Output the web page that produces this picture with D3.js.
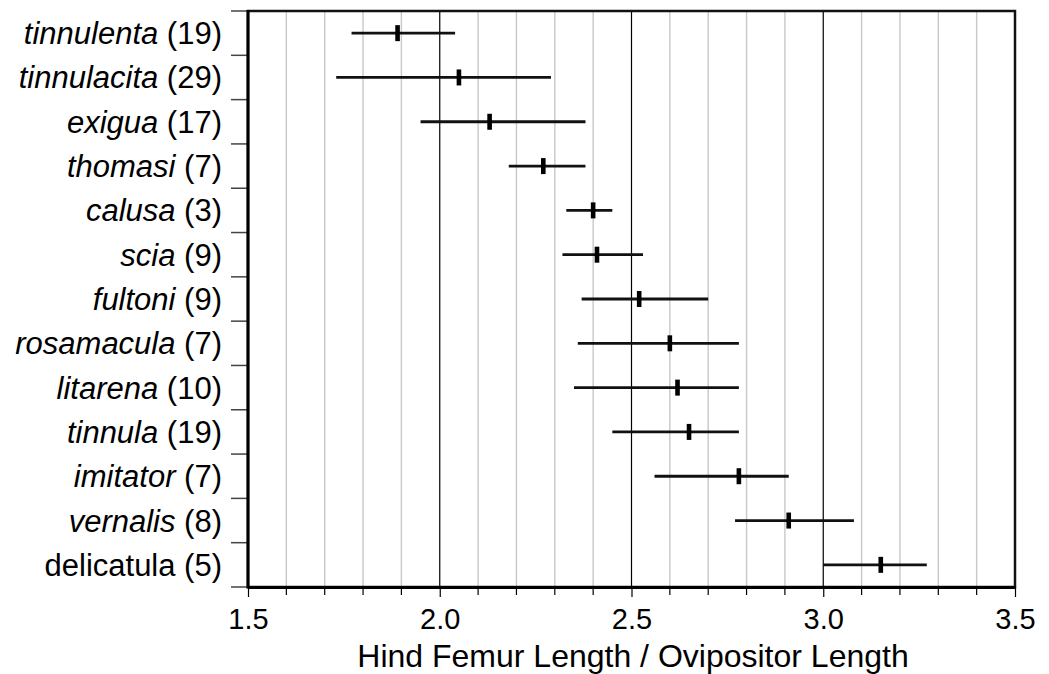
<!DOCTYPE html>
<html>
<head>
<meta charset="utf-8">
<script src="https://cdn.jsdelivr.net/npm/d3@7"></script>
<style>
  body { margin: 0; background: #fff; }
  text { font-family: "Liberation Sans", Arial, Helvetica, sans-serif; fill: #000; }
</style>
</head>
<body>
<div id="chart"></div>
<script>
// species, sample size, italic flag
var species = ["tinnulenta", "tinnulacita", "exigua", "thomasi", "calusa", "scia", "fultoni",
  "rosamacula", "litarena", "tinnula", "imitator", "vernalis", "delicatula"];
var counts = [19, 29, 17, 7, 3, 9, 9, 7, 10, 19, 7, 8, 5];
var italic = [true, true, true, true, true, true, true, true, true, true, true, true, false];

// ratio range (low, mean, high)
var lows  = [1.77, 1.73, 1.95, 2.18, 2.33, 2.32, 2.37, 2.36, 2.35, 2.45, 2.56, 2.77, 3.00];
var means = [1.89, 2.05, 2.13, 2.27, 2.40, 2.41, 2.52, 2.60, 2.62, 2.65, 2.78, 2.91, 3.15];
var highs = [2.04, 2.29, 2.38, 2.38, 2.45, 2.53, 2.70, 2.78, 2.78, 2.78, 2.91, 3.08, 3.27];

var xTicks = [1.5, 2.0, 2.5, 3.0, 3.5];
var xLabel = "Hind Femur Length / Ovipositor Length";

var svgWidth = 1049;
var svgHeight = 674;
var margin = { top: 11, right: 34, bottom: 87, left: 248 };
var width = svgWidth - margin.left - margin.right;
var height = svgHeight - margin.top - margin.bottom;

var data = species.map((s, i) => ({
  name: s, n: counts[i], italic: italic[i], lo: lows[i], mean: means[i], hi: highs[i]
}));

var svg = d3.select("#chart").append("svg")
  .attr("width", svgWidth)
  .attr("height", svgHeight);

var chartGroup = svg.append("g")
  .attr("transform", `translate(${margin.left}, ${margin.top})`);

var x = d3.scaleLinear().domain([1.5, 3.5]).range([0, width]);
var y = d3.scaleBand().domain(species).range([0, height]);

// gridlines every 0.1, black at half units
var gridVals = d3.range(16, 35).map(d => d / 10);
chartGroup.selectAll("line.grid")
  .data(gridVals)
  .enter()
  .append("line")
  .attr("class", "grid")
  .attr("x1", d => x(d)).attr("x2", d => x(d))
  .attr("y1", 0).attr("y2", height)
  .attr("stroke", d => (Math.round(d * 10) % 5 === 0) ? "#000" : "#c8c8c8")
  .attr("stroke-width", d => (Math.round(d * 10) % 5 === 0) ? 1.2 : 1.4);

// frame
chartGroup.append("rect")
  .attr("width", width).attr("height", height)
  .attr("fill", "none").attr("stroke", "#111").attr("stroke-width", 2.5);

// y ticks at row boundaries
var bounds = d3.range(0, species.length + 1).map(i => i * y.step());
chartGroup.selectAll("line.ytick")
  .data(bounds)
  .enter()
  .append("line")
  .attr("x1", -17).attr("x2", 0)
  .attr("y1", d => d).attr("y2", d => d)
  .attr("stroke", "#444").attr("stroke-width", 1.5);

// x axis ticks
var xAxis = d3.axisBottom(x)
  .tickValues(xTicks)
  .tickFormat(d3.format(".1f"))
  .tickSize(10)
  .tickSizeOuter(0);

var xAxisG = chartGroup.append("g")
  .attr("transform", `translate(0, ${height})`)
  .call(xAxis);
xAxisG.select(".domain").attr("stroke-width", 3).attr("stroke", "#000");
xAxisG.selectAll(".tick line").attr("stroke-width", 1.2);
xAxisG.selectAll(".tick text")
  .attr("dy", null)
  .attr("y", 42)
  .style("font-size", "29px")
  .style("font-family", "Liberation Sans, Arial, sans-serif");

chartGroup.selectAll("line.minor")
  .data(gridVals.filter(d => Math.round(d * 10) % 5 !== 0))
  .enter()
  .append("line")
  .attr("x1", d => x(d)).attr("x2", d => x(d))
  .attr("y1", height).attr("y2", height + 8)
  .attr("stroke", "#000").attr("stroke-width", 1.2);

// left edge thicker
chartGroup.append("line")
  .attr("x1", 0).attr("x2", 0).attr("y1", -1).attr("y2", height + 1.5)
  .attr("stroke", "#000").attr("stroke-width", 3);

// error bars
var rows = chartGroup.selectAll("g.row")
  .data(data)
  .enter()
  .append("g")
  .attr("transform", d => `translate(0, ${y(d.name) + y.bandwidth() / 2})`);

rows.append("line")
  .attr("x1", d => x(d.lo)).attr("x2", d => x(d.hi))
  .attr("y1", 0).attr("y2", 0)
  .attr("stroke", "#111").attr("stroke-width", 2.8);

rows.append("rect")
  .attr("x", d => x(d.mean) - 2.3)
  .attr("y", -8)
  .attr("width", 4.6)
  .attr("height", 16)
  .attr("fill", "#000");

// category labels
var labels = chartGroup.selectAll("text.cat")
  .data(data)
  .enter()
  .append("text")
  .attr("class", "cat")
  .attr("x", -26)
  .attr("y", d => y(d.name) + y.bandwidth() / 2 + 11)
  .attr("text-anchor", "end")
  .style("font-size", "31px");

labels.append("tspan")
  .style("font-style", d => d.italic ? "italic" : "normal")
  .text(d => d.name);
labels.append("tspan")
  .text(d => ` (${d.n})`);

// x axis title
svg.append("text")
  .attr("x", 633)
  .attr("y", 667)
  .attr("text-anchor", "middle")
  .style("font-size", "32px")
  .text(xLabel);
</script>
</body>
</html>
